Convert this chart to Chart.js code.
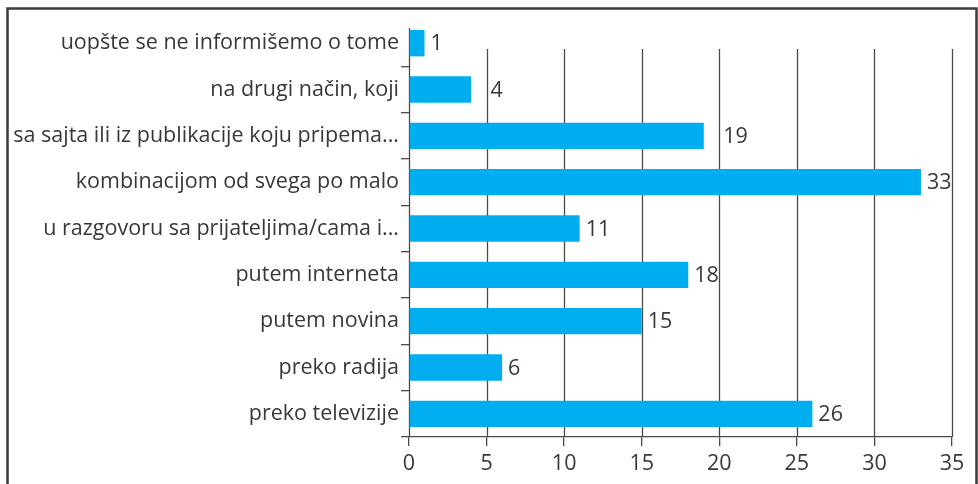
<!DOCTYPE html>
<html><head><meta charset="utf-8">
<script src="https://cdn.jsdelivr.net/npm/chart.js@4/dist/chart.umd.min.js"></script>
<style>html,body{margin:0;padding:0;background:#fff}#w{width:978px;height:484px;position:relative}</style>
</head><body><div id="w"><canvas id="c"></canvas></div>
<script>
const categories = [
  "uopšte se ne informišemo o tome",
  "na drugi način, koji",
  "sa sajta ili iz publikacije koju pripema...",
  "kombinacijom od svega po malo",
  "u razgovoru sa prijateljima/cama i...",
  "putem interneta",
  "putem novina",
  "preko radija",
  "preko televizije"
];
const values = [1, 4, 19, 33, 11, 18, 15, 6, 26];
const xTicks = [0, 5, 10, 15, 20, 25, 30, 35];

const FONT = "'Open Sans', sans-serif";
const FS = 21.5;
const TXT = "#383838";
const LINE = "#4a4a4a";

const framePlugin = {
  id: 'frame',
  beforeDraw(chart) {
    const ctx = chart.ctx;
    ctx.save();
    ctx.fillStyle = '#fff';
    ctx.fillRect(0, 0, chart.width, chart.height);
    ctx.strokeStyle = '#3c3c3c';
    ctx.lineWidth = 2.5;
    ctx.beginPath();
    ctx.moveTo(7.5, 490); ctx.lineTo(7.5, 8.5); ctx.lineTo(976.5, 8.5); ctx.lineTo(976.5, 490);
    ctx.stroke();
    const xs = chart.scales.x, ys = chart.scales.y;
    ctx.strokeStyle = LINE;
    ctx.lineWidth = 1.3;
    xs.ticks.forEach((t, i) => {
      const px = Math.round(xs.getPixelForTick(i)) + 0.5;
      const top = i === 0 ? 28 : 49;
      ctx.beginPath(); ctx.moveTo(px, top); ctx.lineTo(px, ys.bottom); ctx.stroke();
    });
    ctx.restore();
  },
  afterDatasetsDraw(chart) {
    const ctx = chart.ctx;
    const meta = chart.getDatasetMeta(0);
    const xs = chart.scales.x;
    const gridPx = xTicks.map(v => xs.getPixelForValue(v));
    ctx.save();
    ctx.fillStyle = TXT;
    ctx.font = FS + "px " + FONT;
    ctx.textAlign = 'left';
    ctx.textBaseline = 'middle';
    meta.data.forEach((bar, i) => {
      let x = bar.x + 6;
      gridPx.forEach(g => { if (g > bar.x + 1 && g < bar.x + 18) x = g + 4; });
      ctx.fillText(String(values[i]), x, bar.y + 1);
    });
    ctx.restore();
  }
};

new Chart(document.getElementById('c'), {
  type: 'bar',
  data: {
    labels: categories,
    datasets: [{
      data: values,
      backgroundColor: '#00AEEF',
      borderWidth: 0,
      barPercentage: 0.57,
      categoryPercentage: 1.0
    }]
  },
  options: {
    indexAxis: 'y',
    responsive: true,
    maintainAspectRatio: false,
    animation: false,
    devicePixelRatio: 1,
    layout: { padding: { top: 20, right: 26, left: 0, bottom: 0 } },
    plugins: { legend: { display: false }, tooltip: { enabled: false } },
    scales: {
      x: {
        min: 0, max: 35,
        afterBuildTicks(scale) { scale.ticks = xTicks.map(v => ({ value: v })); },
        afterFit(scale) { scale.height = 47; },
        grid: { drawOnChartArea: false, drawTicks: true, tickLength: 9, color: LINE, lineWidth: 1.3 },
        border: { display: true, color: LINE, width: 1.3 },
        ticks: { color: TXT, font: { family: FONT, size: FS }, padding: 5, maxRotation: 0 }
      },
      y: {
        afterFit(scale) { scale.width = 409; },
        grid: {
          offset: true, drawOnChartArea: false, drawTicks: true, tickLength: 8,
          color: LINE, lineWidth: 1.3,
          tickColor: (c) => (c.index === 0 ? 'rgba(0,0,0,0)' : LINE)
        },
        border: { display: false },
        ticks: { color: TXT, font: { family: FONT, size: FS }, padding: 2, autoSkip: false }
      }
    }
  },
  plugins: [framePlugin]
});
</script></body></html>
